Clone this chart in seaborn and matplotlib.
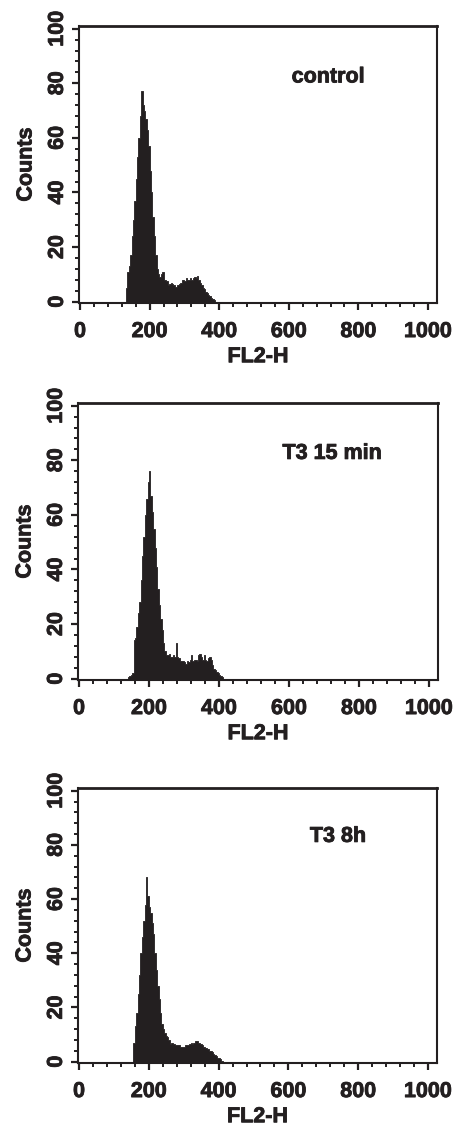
import numpy as np
import pandas as pd
import matplotlib
matplotlib.use('Agg')
import matplotlib.pyplot as plt
import matplotlib.patheffects as pe
from matplotlib.ticker import MultipleLocator
import seaborn as sns

# ── data: histogram counts per FL2-H channel bin (bin width 4) ──
bin_width = 4

control_start = 132
control_counts = [5, 11, 13, 17, 24, 30, 37, 45, 53, 60, 68, 77, 72, 70, 67, 63,
                  57, 48, 40, 31, 24, 17, 12, 10, 9, 10, 11, 8, 8, 7.5, 6, 6.5,
                  7, 6.5, 6, 5.5, 5.5, 6, 6.5, 7, 8, 8, 7.5, 8.5, 8, 8, 8.5, 8,
                  8.5, 9, 8.5, 9.5, 8, 7, 6, 5, 4.5, 3.5, 3, 2.5, 2, 1.5, 1, 0.5]

t3_15min_start = 140
t3_15min_counts = [0.5, 1, 1.2, 2, 14, 15, 19, 24, 28, 36, 45, 52, 60, 66, 72, 76,
                   67, 61, 55, 48, 41, 33, 27, 22, 18, 13, 10, 8.5, 8.5, 9, 8, 8,
                   8.5, 8, 13, 8, 7.5, 6.5, 6.5, 6.5, 6, 5.5, 6.5, 6, 7, 8.5, 6.5, 7,
                   7, 6.5, 8.5, 9, 8, 7, 8.5, 7, 6.5, 7.5, 8, 7, 5, 3.5, 3, 2.5,
                   2, 1.5, 1, 0.5]

t3_8h_start = 156
t3_8h_counts = [7, 13, 18, 25, 32, 40, 46, 52, 58, 68, 61, 57, 55, 51, 47, 40,
                34, 28, 23, 18, 14, 12, 10.5, 9.5, 9, 8, 6.5, 7, 6.5, 6.5, 6, 6,
                6, 5.5, 5.5, 5.5, 5.5, 6, 6, 6, 6.5, 7, 6.5, 7, 7.5, 7.5, 7, 7,
                6.5, 6, 5.5, 5, 5, 4.5, 4, 4, 3.5, 3, 2.5, 2, 1.5, 1.2, 0.8, 0.4]

panel_labels = ['control', 'T3 15 min', 'T3 8h']
x_ticks = [0, 200, 400, 600, 800, 1000]
y_ticks = [0, 20, 40, 60, 80, 100]

# ── style ──
sns.set_theme(style='ticks')
plt.rcParams['font.family'] = ['Liberation Sans', 'DejaVu Sans']
plt.rcParams['font.weight'] = 'bold'
plt.rcParams['axes.labelweight'] = 'bold'

INK = '#231f20'
FS = 15.5
# slightly heavier strokes, like the scanned bold type
heavy = [pe.withStroke(linewidth=0.6, foreground=INK)]

fig = plt.figure(figsize=(4.55, 11.28), dpi=100)

# axes boxes in pixels (left, top, right, bottom)
boxes = [(79, 26, 437, 303), (78, 403, 438, 680), (78, 788, 437, 1063)]
text_pos = [(0.696, 0.816), (0.706, 0.818), (0.724, 0.824)]
panels = [(control_start, control_counts),
          (t3_15min_start, t3_15min_counts),
          (t3_8h_start, t3_8h_counts)]

W, H = 455, 1128
for (l, t, r, b), (start, counts), label, (tx, ty) in zip(boxes, panels, panel_labels, text_pos):
    ax = fig.add_axes([l / W, 1 - b / H, (r - l) / W, (b - t) / H])
    n = len(counts)
    centers = start + bin_width * (np.arange(n) + 0.5)
    df = pd.DataFrame({'fl2': centers, 'count': counts})
    sns.histplot(data=df, x='fl2', weights='count', binwidth=bin_width,
                 binrange=(start, start + bin_width * n), element='step',
                 fill=True, color=INK, alpha=1, linewidth=0.6, edgecolor=INK, ax=ax)

    ax.set_xlim(-3, 1026)
    ax.set_ylim(-0.5, 101)
    ax.set_xticks(x_ticks)
    ax.set_yticks(y_ticks)
    ax.xaxis.set_minor_locator(MultipleLocator(40))
    ax.yaxis.set_minor_locator(MultipleLocator(4))
    ax.tick_params(which='major', length=5, width=1.6, color=INK, labelsize=FS,
                   labelcolor=INK)
    ax.tick_params(which='minor', length=3, width=1.4, color=INK)
    ax.tick_params(axis='x', which='major', pad=8)
    ax.tick_params(axis='y', which='major', pad=3)
    for lab in ax.get_yticklabels():
        lab.set_rotation(90)
        lab.set_va('center')
        lab.set_fontweight('bold')
        lab.set_path_effects(heavy)
    for lab in ax.get_xticklabels():
        lab.set_fontweight('bold')
        lab.set_path_effects(heavy)

    for side in ['left', 'right', 'bottom']:
        ax.spines[side].set_linewidth(1.5)
        ax.spines[side].set_color(INK)
    ax.spines['top'].set_linewidth(2.0)
    ax.spines['top'].set_color(INK)

    ax.set_xlabel('FL2-H', fontsize=FS, fontweight='bold', color=INK, labelpad=3,
                  path_effects=heavy)
    ax.set_ylabel('Counts', fontsize=FS, fontweight='bold', color=INK, labelpad=7.5,
                  path_effects=heavy)
    ax.text(tx, ty, label, transform=ax.transAxes, ha='center', va='center',
            fontsize=FS, fontweight='bold', color=INK, path_effects=heavy)

fig.savefig('out.png', dpi=100)
plt.close()
